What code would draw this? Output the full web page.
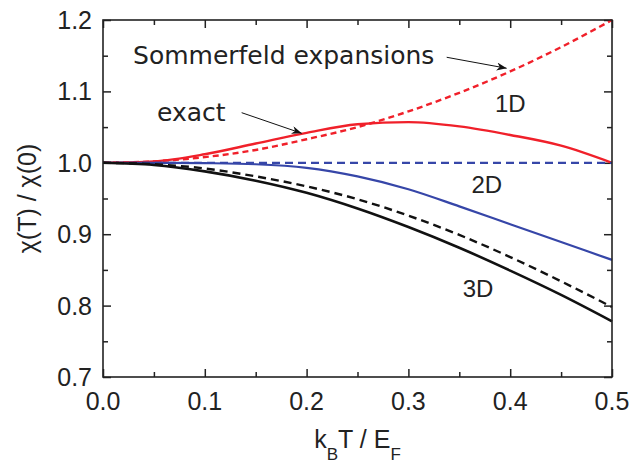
<!DOCTYPE html>
<html>
<head>
<meta charset="utf-8">
<script src="https://cdn.jsdelivr.net/npm/d3@7"></script>
<style>
  body { margin: 0; background: #fff; }
  svg { display: block; overflow: visible; }
  .tick line { stroke: #222; stroke-width: 1.5; }
</style>
</head>
<body>
<svg width="642" height="462"></svg>
<script>
// temperature k_B T / E_F
const temps = [0, 0.05, 0.1, 0.15, 0.2, 0.25, 0.3, 0.35, 0.4, 0.45, 0.5];

// chi(T)/chi(0)
const exact1D      = [1.0, 1.002, 1.012, 1.027, 1.042, 1.054, 1.057, 1.051, 1.039, 1.024, 1.0];
const sommerfeld1D = [1.0, 1.002, 1.008, 1.018, 1.033, 1.050, 1.072, 1.098, 1.128, 1.162, 1.2];
const exact2D      = [1.0, 1.0, 0.9995, 0.998, 0.993, 0.981, 0.963, 0.939, 0.914, 0.889, 0.864];
const sommerfeld2D = [1.0, 1.0, 1.0, 1.0, 1.0, 1.0, 1.0, 1.0, 1.0, 1.0, 1.0];
const exact3D      = [1.0, 0.997, 0.988, 0.975, 0.958, 0.936, 0.910, 0.881, 0.849, 0.815, 0.778];
const sommerfeld3D = [1.0, 0.998, 0.992, 0.981, 0.967, 0.949, 0.926, 0.899, 0.868, 0.834, 0.798];

const xTicks = [0, 0.1, 0.2, 0.3, 0.4, 0.5];
const xMinorTicks = [0.05, 0.15, 0.25, 0.35, 0.45];
const yTicks = [0.7, 0.8, 0.9, 1.0, 1.1, 1.2];
const yMinorTicks = [0.75, 0.85, 0.95, 1.05, 1.15];

const {
  select, scaleLinear, axisBottom, axisLeft, axisTop, axisRight, line, curveMonotoneX, format
} = d3;

const sans = '"Liberation Sans", Arial, sans-serif';
const vera = '"DejaVu Sans", sans-serif';

const svg = select('svg');
const width = +svg.attr('width');
const height = +svg.attr('height');
const margin = { top: 20, right: 30, bottom: 85, left: 103 };
const innerWidth = width - margin.left - margin.right;
const innerHeight = height - margin.top - margin.bottom;

const xScale = scaleLinear().domain([0, 0.5]).range([0, innerWidth]);
const yScale = scaleLinear().domain([0.7, 1.2]).range([innerHeight, 0]);

const g = svg.append('g')
  .attr('transform', `translate(${margin.left},${margin.top})`);

// tick marks point inwards on all four sides
const tickAxes = [
  [axisBottom(xScale).tickValues(xTicks).tickSize(-8), `translate(0,${innerHeight})`],
  [axisBottom(xScale).tickValues(xMinorTicks).tickSize(-5), `translate(0,${innerHeight})`],
  [axisTop(xScale).tickValues(xTicks).tickSize(-8), null],
  [axisTop(xScale).tickValues(xMinorTicks).tickSize(-5), null],
  [axisLeft(yScale).tickValues(yTicks).tickSize(-8), null],
  [axisLeft(yScale).tickValues(yMinorTicks).tickSize(-5), null],
  [axisRight(yScale).tickValues(yTicks).tickSize(-8), `translate(${innerWidth},0)`],
  [axisRight(yScale).tickValues(yMinorTicks).tickSize(-5), `translate(${innerWidth},0)`]
];
tickAxes.forEach(([ax, tr]) => {
  g.append('g').attr('transform', tr).call(ax.tickSizeOuter(0));
});
g.selectAll('.tick text').remove();
g.selectAll('.domain').remove();

// tick labels
const fmt = format('.1f');
g.selectAll('text.xt').data(xTicks)
  .enter().append('text')
  .attr('class', 'xt')
  .attr('x', d => xScale(d))
  .attr('y', innerHeight + 33)
  .attr('text-anchor', 'middle')
  .attr('font-family', sans)
  .attr('font-size', 25)
  .attr('fill', '#222')
  .text(fmt);
g.selectAll('text.yt').data(yTicks)
  .enter().append('text')
  .attr('class', 'yt')
  .attr('x', -11)
  .attr('y', d => yScale(d) + 9)
  .attr('text-anchor', 'end')
  .attr('font-family', sans)
  .attr('font-size', 25)
  .attr('fill', '#222')
  .text(fmt);

// curves
const series = [
  { values: sommerfeld1D, color: '#f0202a', width: 2.4, dash: '6,4' },
  { values: exact1D,      color: '#f0202a', width: 2.4, dash: null },
  { values: sommerfeld2D, color: '#3646a8', width: 2.2, dash: '8,5' },
  { values: exact2D,      color: '#3646a8', width: 2.2, dash: null },
  { values: sommerfeld3D, color: '#111',    width: 2.4, dash: '8,5' },
  { values: exact3D,      color: '#111',    width: 2.6, dash: null }
];

const lineGenerator = line()
  .x((d, i) => xScale(temps[i]))
  .y(d => yScale(d))
  .curve(curveMonotoneX);

g.selectAll('path.curve').data(series)
  .enter().append('path')
  .attr('class', 'curve')
  .attr('fill', 'none')
  .attr('stroke', d => d.color)
  .attr('stroke-width', d => d.width)
  .attr('stroke-dasharray', d => d.dash)
  .attr('d', d => lineGenerator(d.values));

// frame
g.append('rect')
  .attr('width', innerWidth)
  .attr('height', innerHeight)
  .attr('fill', 'none')
  .attr('stroke', '#222')
  .attr('stroke-width', 1.6);

// annotations
svg.append('defs').append('marker')
  .attr('id', 'head')
  .attr('markerUnits', 'userSpaceOnUse')
  .attr('markerWidth', 12).attr('markerHeight', 10)
  .attr('refX', 10).attr('refY', 4)
  .attr('orient', 'auto')
  .append('path')
  .attr('d', 'M0,0 L10,4 L0,8 L3,4 Z')
  .attr('fill', '#111');

const arrows = [
  { x1: 0.3376, y1: 1.1478, x2: 0.3965, y2: 1.1324 },
  { x1: 0.1362, y1: 1.0702, x2: 0.1952, y2: 1.0413 }
];
g.selectAll('line.arrow').data(arrows)
  .enter().append('line')
  .attr('class', 'arrow')
  .attr('x1', d => xScale(d.x1)).attr('y1', d => yScale(d.y1))
  .attr('x2', d => xScale(d.x2)).attr('y2', d => yScale(d.y2))
  .attr('stroke', '#111')
  .attr('stroke-width', 1)
  .attr('marker-end', 'url(#head)');

const notes = [
  { text: 'Sommerfeld expansions', x: 0.0295, y: 1.1384, font: vera, size: 25 },
  { text: 'exact', x: 0.053, y: 1.0585, font: vera, size: 25 },
  { text: '1D', x: 0.385, y: 1.0707, font: sans, size: 24 },
  { text: '2D', x: 0.362, y: 0.9575, font: sans, size: 24 },
  { text: '3D', x: 0.3533, y: 0.8125, font: sans, size: 24 }
];
g.selectAll('text.lbl').data(notes)
  .enter().append('text')
  .attr('class', 'lbl')
  .attr('x', d => xScale(d.x))
  .attr('y', d => yScale(d.y))
  .attr('font-family', d => d.font)
  .attr('font-size', d => d.size)
  .attr('fill', '#222')
  .text(d => d.text);

// axis titles
const xLabel = svg.append('text')
  .attr('x', margin.left + innerWidth / 2)
  .attr('y', 448)
  .attr('text-anchor', 'middle')
  .attr('font-family', sans)
  .attr('font-size', 25)
  .attr('fill', '#222');
xLabel.append('tspan').text('k');
xLabel.append('tspan').attr('dy', 12).attr('font-size', 17).text('B');
xLabel.append('tspan').attr('dy', -12).text('T / E');
xLabel.append('tspan').attr('dy', 12).attr('font-size', 17).text('F');

svg.append('text')
  .attr('transform', `translate(36,${margin.top + innerHeight / 2}) rotate(-90)`)
  .attr('text-anchor', 'middle')
  .attr('font-family', sans)
  .attr('font-size', 25)
  .attr('fill', '#222')
  .text('χ(T) / χ(0)');
</script>
</body>
</html>
